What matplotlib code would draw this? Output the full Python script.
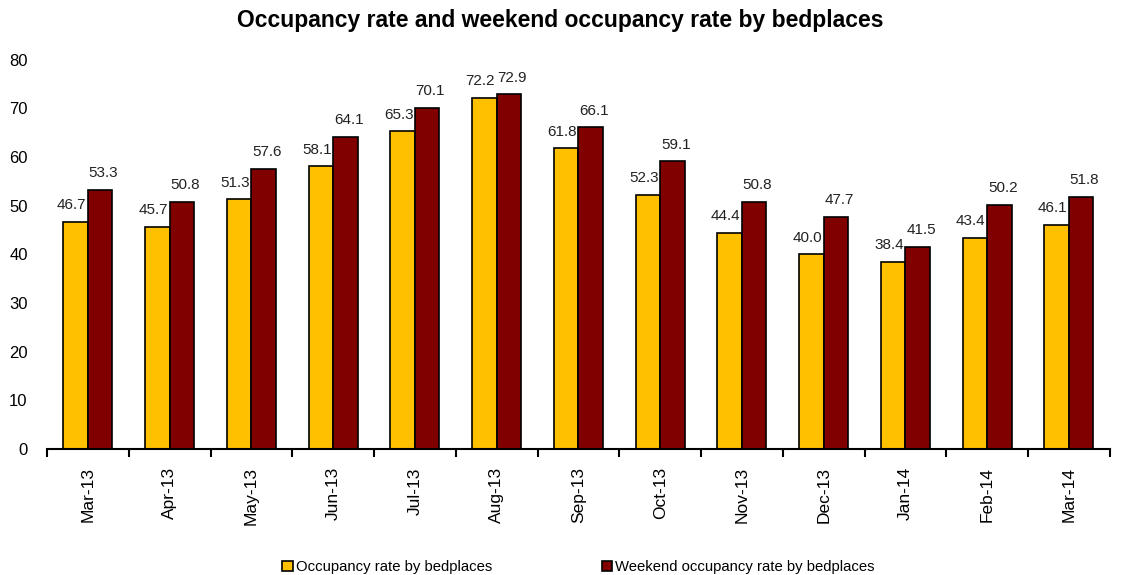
import numpy as np
import matplotlib.pyplot as plt

plt.rcParams['font.family'] = ['Liberation Sans', 'DejaVu Sans']

months = ['Mar-13', 'Apr-13', 'May-13', 'Jun-13', 'Jul-13', 'Aug-13', 'Sep-13',
          'Oct-13', 'Nov-13', 'Dec-13', 'Jan-14', 'Feb-14', 'Mar-14']
occupancy = [46.7, 45.7, 51.3, 58.1, 65.3, 72.2, 61.8, 52.3, 44.4, 40.0, 38.4, 43.4, 46.1]
weekend = [53.3, 50.8, 57.6, 64.1, 70.1, 72.9, 66.1, 59.1, 50.8, 47.7, 41.5, 50.2, 51.8]

fig = plt.figure(figsize=(11.21, 5.75), dpi=100)
ax = fig.add_axes([0.042, 0.219, 0.948, 0.677])

x = np.arange(len(months))
w = 0.3
b1 = ax.bar(x - w/2, occupancy, w, color='#FFC000', edgecolor='black', linewidth=1.2,
            label='Occupancy rate by bedplaces')
b2 = ax.bar(x + w/2, weekend, w, color='#800000', edgecolor='black', linewidth=1.2,
            label='Weekend occupancy rate by bedplaces')

# value labels
for xi, v in zip(x, occupancy):
    ax.text(xi - w/2 - 0.05, v + 2.0, f'{v:.1f}', ha='center', va='bottom', fontsize=11, color='#222222')
for xi, v in zip(x, weekend):
    ax.text(xi + w/2 + 0.04, v + 2.0, f'{v:.1f}', ha='center', va='bottom', fontsize=11, color='#222222')

ax.set_xlim(-0.5, len(months) - 0.5)
ax.set_ylim(0, 80)
ax.set_yticks(range(0, 81, 10))
ax.tick_params(axis='y', length=0, labelsize=12, pad=14)

ax.set_xticks(x)
ax.set_xticklabels(months, rotation=90, fontsize=12.5)
ax.tick_params(axis='x', length=0, pad=13)
ax.set_xticks(np.arange(-0.5, len(months)), minor=True)
ax.tick_params(axis='x', which='minor', length=6, width=1.5, direction='out')

for s in ['top', 'right', 'left']:
    ax.spines[s].set_visible(False)
ax.spines['bottom'].set_linewidth(1.5)

fig.suptitle('Occupancy rate and weekend occupancy rate by bedplaces',
             fontsize=16.5, fontweight='bold', y=0.985)

fig.legend(handles=[b1, b2], loc='lower center', bbox_to_anchor=(0.516, -0.022), ncol=2,
           frameon=False, fontsize=10.7, handlelength=0.7, handleheight=0.7,
           handletextpad=0.2, columnspacing=7.4)

fig.savefig('out.png', dpi=100)
